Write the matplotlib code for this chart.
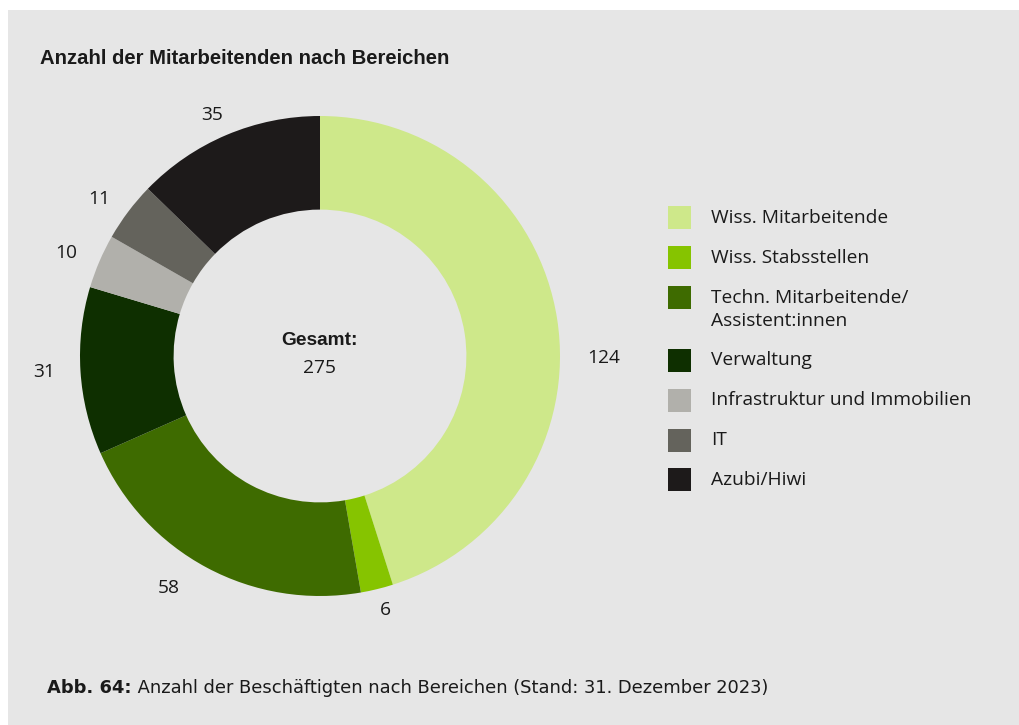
import numpy as np
import matplotlib
matplotlib.use("Agg")
import matplotlib.pyplot as plt
from matplotlib.patches import Rectangle

# Staff counts per department
categories = [
    "Wiss. Mitarbeitende",
    "Wiss. Stabsstellen",
    "Techn. Mitarbeitende/\nAssistent:innen",
    "Verwaltung",
    "Infrastruktur und Immobilien",
    "IT",
    "Azubi/Hiwi",
]
counts = [124, 6, 58, 31, 10, 11, 35]
colors = ["#cee88a", "#86c400", "#3e6b00", "#0e2f00", "#b1b0ab", "#64635c", "#1d1a1a"]

title = "Anzahl der Mitarbeitenden nach Bereichen"
caption_bold = "Abb. 64:"
caption_text = " Anzahl der Beschäftigten nach Bereichen (Stand: 31. Dezember 2023)"

W, H = 1019, 725
BG = "#e6e6e6"
TXT = "#1a1a1a"
BODY = ["Open Sans", "DejaVu Sans"]
plt.rcParams["font.family"] = BODY
FS = 13.8

fig = plt.figure(figsize=(W / 100, H / 100), dpi=100, facecolor="white")

# grey panel behind everything
fig.patches.append(Rectangle((8 / W, 0), 1 - 8 / W, 1 - 10 / H,
                             transform=fig.transFigure, facecolor=BG,
                             edgecolor="none", zorder=-5))

# donut axes: 240 px per unit radius, centre at (320, 356) px
cx, cy = 320, 356
size = 600
ax = fig.add_axes([(cx - size / 2) / W, (H - cy - size / 2) / H, size / W, size / H])
ax.set_zorder(2)
ax.patch.set_visible(False)
ax.set_xlim(-1.25, 1.25)
ax.set_ylim(-1.25, 1.25)
ax.set_aspect("equal")
ax.axis("off")

wedges, _ = ax.pie(counts, colors=colors, startangle=90, counterclock=False,
                   radius=1.0, wedgeprops=dict(width=0.39, edgecolor="none"))

# value labels around the ring (slightly elliptical placement, a few nudged)
rx, ry = 1.15, 1.09
angle_nudge = {0: None, 2: -3.0}
for i, (w, v) in enumerate(zip(wedges, counts)):
    deg = (w.theta1 + w.theta2) / 2
    nud = angle_nudge.get(i, 0.0)
    r_x, r_y = rx, ry
    if nud is None:
        deg = -0.5
        r_x = 1.18
    else:
        deg += nud
    if i == 2:
        r_x, r_y = 1.22, 1.13
    ang = np.deg2rad(deg)
    ax.text(r_x * np.cos(ang), r_y * np.sin(ang), str(v), ha="center", va="center",
            fontsize=FS, color=TXT)

total = sum(counts)
ax.text(0, 0.065, "Gesamt:", ha="center", va="center", fontsize=FS,
        fontweight="bold", color=TXT, family=["Liberation Sans", "DejaVu Sans"])
ax.text(0, -0.048, str(total), ha="center", va="center", fontsize=FS, color=TXT)

# title
fig.text(40 / W, 1 - 58 / H, title, ha="left", va="center", fontsize=14.6,
         fontweight="bold", color=TXT, family=["Liberation Sans", "DejaVu Sans"])

# legend
y = 218
for lab, col in zip(categories, colors):
    fig.patches.append(Rectangle((668 / W, 1 - (y + 11.5) / H), 23 / W, 23 / H,
                                 transform=fig.transFigure, facecolor=col,
                                 edgecolor="none", zorder=2))
    lines = lab.split("\n")
    for k, line in enumerate(lines):
        fig.text(711 / W, 1 - (y + 23 * k) / H, line, ha="left", va="center",
                 fontsize=FS, color=TXT)
    y += 39.8 + 23 * (len(lines) - 1)

# caption
cap_font = ["DejaVu Sans"]
t1 = fig.text(47 / W, 1 - 688 / H, caption_bold, ha="left", va="center", fontsize=12.9,
              fontweight="bold", color=TXT, family=cap_font)
fig.canvas.draw()
bb = t1.get_window_extent()
fig.text(bb.x1 / W, 1 - 688 / H, caption_text, ha="left", va="center", fontsize=12.9,
         color=TXT, family=cap_font)

fig.savefig("out.png", dpi=100, facecolor="white")
